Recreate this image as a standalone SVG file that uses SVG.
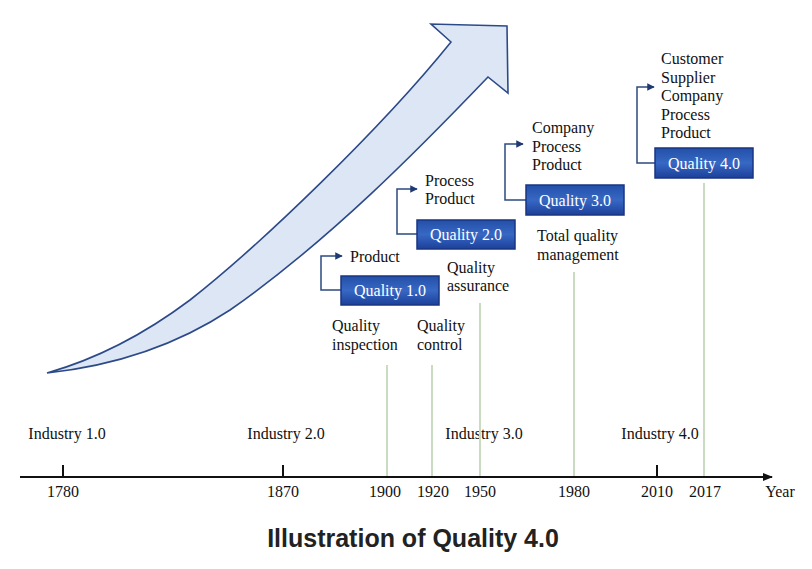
<svg xmlns="http://www.w3.org/2000/svg" width="812" height="569" viewBox="0 0 812 569">
<style>
.t{font-family:"Liberation Serif","Times New Roman",serif;font-size:16px;fill:#111}
.bt{font-family:"Liberation Serif","Times New Roman",serif;font-size:16px;fill:#fff;text-anchor:middle}
.yr{font-family:"Liberation Serif","Times New Roman",serif;font-size:16px;fill:#111;text-anchor:middle}
.box{fill:url(#bg);stroke:#1a3582;stroke-width:1.5}
.br{fill:none;stroke:#2b4a80;stroke-width:1.5}
.gl{stroke:#c9dcc2;stroke-width:2}
.tk{stroke:#111;stroke-width:2}
</style>
<defs>
<linearGradient id="bg" x1="0" y1="0" x2="0" y2="1">
<stop offset="0" stop-color="#2350a8"/>
<stop offset="0.5" stop-color="#3768c4"/>
<stop offset="1" stop-color="#1c4099"/>
</linearGradient>
<marker id="ah" viewBox="0 0 10 10" refX="9" refY="5" markerWidth="5" markerHeight="5" orient="auto">
<path d="M0,0 L10,5 L0,10 Z" fill="#1f3a70"/>
</marker>
<marker id="ax" viewBox="0 0 10 10" refX="9" refY="5" markerWidth="5" markerHeight="5" orient="auto" markerUnits="strokeWidth">
<path d="M0,1 L10,5 L0,9 Z" fill="#111"/>
</marker>
</defs>
<rect width="812" height="569" fill="#fff"/>

<g id="growth-arrow">
<path d="M47,373 C100,358 150,330 190,300 C260,245 380,130 451,42 L431,24 L507,26 L508,93 L488,77 C420,148 330,240 230,310 C180,343 120,365 47,373 Z" fill="#dce6f5" stroke="#2d4a88" stroke-width="1.6" stroke-linejoin="miter"/>
</g>

<g id="timeline">
<line x1="20" y1="477" x2="772" y2="477" stroke="#111" stroke-width="2" marker-end="url(#ax)"/>
<line class="tk" x1="63" y1="465" x2="63" y2="477"/>
<line class="tk" x1="283" y1="465" x2="283" y2="477"/>
<line class="tk" x1="657" y1="465" x2="657" y2="477"/>
<text class="yr" x="63" y="497">1780</text>
<text class="yr" x="283" y="497">1870</text>
<text class="yr" x="385" y="497">1900</text>
<text class="yr" x="433" y="497">1920</text>
<text class="yr" x="480" y="497">1950</text>
<text class="yr" x="574" y="497">1980</text>
<text class="yr" x="657" y="497">2010</text>
<text class="yr" x="705" y="497">2017</text>
<text class="yr" x="780" y="497">Year</text>
<text class="yr" x="67" y="439">Industry 1.0</text>
<text class="yr" x="286" y="439">Industry 2.0</text>
<text class="yr" x="484" y="439">Industry 3.0</text>
<text class="yr" x="660" y="439">Industry 4.0</text>
</g>

<g id="connectors">
<line class="gl" x1="387" y1="365" x2="387" y2="476"/>
<line class="gl" x1="432" y1="365" x2="432" y2="476"/>
<line class="gl" x1="480" y1="303" x2="480" y2="476"/>
<line class="gl" x1="574" y1="272" x2="574" y2="476"/>
<line class="gl" x1="704" y1="183" x2="704" y2="476"/>
<path class="br" d="M341,290 H321 V256 H342" marker-end="url(#ah)"/>
<path class="br" d="M417,234 H397 V189 H417" marker-end="url(#ah)"/>
<path class="br" d="M526,200 H505 V144 H523" marker-end="url(#ah)"/>
<path class="br" d="M655,163 H637 V87 H654" marker-end="url(#ah)"/>
</g>

<g id="quality-1">
<rect class="box" x="341" y="276" width="98" height="29"/>
<text class="bt" x="390" y="296">Quality 1.0</text>
<text class="t" x="350" y="262">Product</text>
</g>

<g id="quality-2">
<rect class="box" x="417" y="220" width="98" height="29"/>
<text class="bt" x="466" y="240">Quality 2.0</text>
<text class="t" x="425" y="186">Process</text>
<text class="t" x="425" y="204">Product</text>
</g>

<g id="quality-3">
<rect class="box" x="526" y="185" width="98" height="30"/>
<text class="bt" x="575" y="206">Quality 3.0</text>
<text class="t" x="532" y="133">Company</text>
<text class="t" x="532" y="151.5">Process</text>
<text class="t" x="532" y="170">Product</text>
</g>

<g id="quality-4">
<rect class="box" x="655" y="148" width="98" height="30"/>
<text class="bt" x="704" y="169">Quality 4.0</text>
<text class="t" x="661" y="64">Customer</text>
<text class="t" x="661" y="82.5">Supplier</text>
<text class="t" x="661" y="101">Company</text>
<text class="t" x="661" y="119.5">Process</text>
<text class="t" x="661" y="138">Product</text>
</g>

<g id="stage-inspection">
<text class="t" x="332" y="331">Quality</text>
<text class="t" x="332" y="350">inspection</text>
</g>
<g id="stage-control">
<text class="t" x="417" y="331">Quality</text>
<text class="t" x="417" y="350">control</text>
</g>
<g id="stage-assurance">
<text class="t" x="447" y="273">Quality</text>
<text class="t" x="447" y="291">assurance</text>
</g>
<g id="stage-tqm">
<text class="t" x="537" y="241">Total quality</text>
<text class="t" x="537" y="260">management</text>
</g>

<text x="413" y="547" text-anchor="middle" font-family="'Liberation Sans',Arial,sans-serif" font-weight="bold" font-size="25" fill="#222">Illustration of Quality 4.0</text>
</svg>
